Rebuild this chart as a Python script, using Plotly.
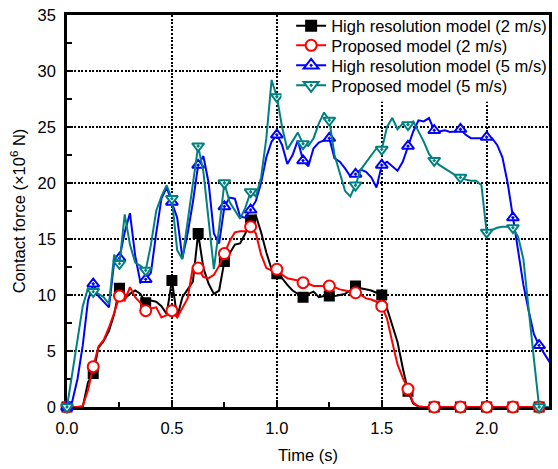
import plotly.graph_objects as go

# Sampling grid of the contact-force histories (s)
TIME = [round(i * 0.025, 3) for i in range(93)]
MARKER_STEP = 5  # a symbol every 0.125 s

# Contact force (x10^6 N)
HIGH_RES_2 = [
    0, 0, 0, 0, 2.2, 3.0, 5.3, 5.9, 6.8, 8.3,
    10.6, 9.7, 10.1, 10.4, 10.1, 9.3, 9.5, 9.4, 9.0, 8.3,
    11.3, 8.0, 9.8, 10.5, 11.2, 15.5, 12.4, 11.0, 10.1, 10.4,
    13.0, 13.7, 14.5, 14.6, 15.5, 16.7, 17.1, 15.6, 13.8, 12.3,
    11.9, 11.5, 10.9, 10.4, 10.1, 9.8, 10.1, 10.3, 9.8, 9.9,
    9.9, 9.9, 10.0, 10.1, 10.4, 10.8, 10.6, 10.5, 10.4, 10.2,
    10.0, 8.8, 7.4, 5.8, 3.5, 1.4, 0.3, 0.05, 0, 0,
    0, 0, 0, 0, 0, 0, 0, 0, 0, 0,
    0, 0, 0, 0, 0, 0, 0, 0, 0, 0,
    0, 0, 0,
]
PROPOSED_2 = [
    0, 0, 0, 0.1, 1.5, 3.6, 5.4, 6.0, 7.1, 8.4,
    9.9, 9.5, 10.7, 9.8, 9.3, 8.6, 8.8, 8.9, 8.0, 8.2,
    8.6, 8.0, 8.8, 9.7, 12.5, 12.4, 11.6, 11.5, 11.8, 12.6,
    13.7, 14.8, 15.6, 15.7, 15.7, 16.1, 15.5, 13.6, 12.4, 12.2,
    12.3, 11.8, 11.5, 11.4, 11.3, 11.1, 11.0, 10.8, 10.8, 10.8,
    10.8, 10.7, 10.5, 10.4, 10.3, 10.2, 10.0, 9.7, 9.6, 9.4,
    9.0, 7.9, 5.8, 3.8, 2.6, 1.6, 0.4, 0.05, 0, 0,
    0, 0, 0, 0, 0, 0, 0, 0, 0, 0,
    0, 0, 0, 0, 0, 0, 0, 0, 0, 0,
    0, 0, 0,
]
HIGH_RES_5 = [
    0, 0.5, 2.5, 5.5, 9.5, 11.0, 9.9, 9.4, 8.9, 13.0,
    13.3, 15.6, 17.3, 13.5, 11.1, 11.4, 12.0, 15.5, 18.6, 19.6,
    18.3, 16.9, 13.3, 15.5, 18.3, 21.6, 22.4, 20.0, 15.5, 14.6,
    17.9, 18.7, 18.6, 17.0, 16.9, 17.6, 18.4, 20.0, 22.3, 23.7,
    24.3, 23.4, 21.7, 22.5, 23.8, 22.0, 21.5, 23.1, 23.6, 23.8,
    24.0, 22.2, 21.9, 21.3, 20.6, 20.8, 21.2, 21.0, 20.5, 19.6,
    21.6, 21.9, 21.5, 21.1, 21.9, 23.3, 24.6, 25.6, 25.5, 25.8,
    24.7, 24.6, 24.7, 24.55, 24.6, 24.8, 24.3, 24.0, 24.0, 24.0,
    24.1, 24.0, 23.4, 22.3, 20.0, 16.9, 13.6, 10.9, 8.6, 6.5,
    5.5, 4.7, 4.0,
]
PROPOSED_5 = [
    0, 2.9, 5.8, 9.0, 10.6, 10.3, 10.1, 9.8, 9.2, 13.6,
    12.8, 17.2, 14.5, 12.9, 12.6, 12.2, 14.5, 17.5, 18.8, 19.8,
    18.6, 14.0, 13.2, 16.5, 20.0, 23.3, 21.0, 16.5, 12.3, 16.0,
    20.0, 18.3, 17.5, 16.8, 17.8, 19.2, 18.8, 20.5, 24.0, 29.2,
    27.7, 25.0, 23.0, 23.8, 24.5, 23.5, 23.3, 24.0, 25.3, 26.3,
    25.6, 22.5, 20.8, 19.3, 18.8, 19.8, 21.2, 21.8, 22.4, 23.1,
    23.0, 25.0, 25.8, 24.8, 25.3, 25.2, 25.5, 24.6, 23.7, 22.6,
    22.0, 21.6, 21.3, 21.0, 20.7, 20.5, 20.3, 20.2, 20.2, 19.8,
    15.6, 15.8, 16.0, 16.1, 16.1, 16.0, 15.2, 13.2, 9.0, 4.3,
    0, 0, 0,
]

# name, values, colour, symbol, fill, plot marker size, legend marker size
SERIES = [
    ("High resolution model (2 m/s)", HIGH_RES_2, "#000000", "square", "#000000", 9, 10),
    ("Proposed model (2 m/s)", PROPOSED_2, "#ff0000", "circle", "#ffffff", 11, 11),
    ("High resolution model (5 m/s)", HIGH_RES_5, "#0000ff", "triangle-up-dot", "#ffffff", 10.5, 13),
    ("Proposed model (5 m/s)", PROPOSED_5, "#008080", "triangle-down-dot", "#ffffff", 10.5, 13),
]

# Vertical centre of each legend row (paper fraction) and the legend block extent
LEGEND_X = 0.465
LEGEND_ROWS_Y = [0.972, 0.922, 0.871, 0.820]
LEGEND_BOX = dict(x0=0.445, x1=1.0, y0=0.779, y1=1.0)

FONT = "Liberation Sans, Arial, sans-serif"

fig = go.Figure()
for i, (name, values, color, symbol, fill, size, legend_size) in enumerate(SERIES):
    legend_id = "legend" if i == 0 else f"legend{i + 1}"
    marker = dict(symbol=symbol, size=size, color=fill,
                  line=dict(color=color, width=2))
    fig.add_trace(go.Scatter(
        x=TIME, y=values, mode="lines", line=dict(color=color, width=2),
        showlegend=False, hoverinfo="skip"))
    fig.add_trace(go.Scatter(
        x=TIME[::MARKER_STEP], y=values[::MARKER_STEP], mode="markers",
        marker=marker, cliponaxis=False, showlegend=False))
    fig.add_trace(go.Scatter(
        x=[None], y=[None], mode="lines+markers", name=name,
        line=dict(color=color, width=2),
        marker=dict(marker, size=legend_size), legend=legend_id))

axis_common = dict(
    showline=True, linecolor="black", linewidth=2.5, mirror=True,
    ticks="inside", ticklen=5, tickwidth=2, tickcolor="black",
    showgrid=True, gridcolor="black", gridwidth=1.5, griddash="2px,1.6px",
    zeroline=False, layer="below traces",
    tickfont=dict(family=FONT, size=16.5, color="black"),
)

fig.update_xaxes(
    range=[0, 2.297], tick0=0, dtick=0.5, tickformat=".1f",
    minor=dict(ticks="inside", ticklen=5, tickwidth=2, tickcolor="black",
               dtick=0.25, showgrid=False),
    ticklabelstandoff=4,
    title=dict(text="Time (s)", standoff=14,
               font=dict(family=FONT, size=16.5, color="black")),
    **axis_common)
fig.update_yaxes(
    range=[0, 35], tick0=0, dtick=5,
    minor=dict(ticks="inside", ticklen=5, tickwidth=2, tickcolor="black",
               dtick=2.5, showgrid=False),
    ticklabelstandoff=5,
    title=dict(text="Contact force (×10<sup>6</sup> N)", standoff=8,
               font=dict(family=FONT, size=16.5, color="black")),
    **axis_common)

# White block behind the legend rows
fig.add_shape(type="rect", xref="paper", yref="paper", layer="above",
              fillcolor="white", line=dict(width=0), **LEGEND_BOX)

legend_style = dict(x=LEGEND_X, xanchor="left", yanchor="middle",
                    bgcolor="rgba(0,0,0,0)", borderwidth=0,
                    font=dict(family=FONT, size=16.5, color="black"))
layout_legends = {}
for i, y in enumerate(LEGEND_ROWS_Y):
    key = "legend" if i == 0 else f"legend{i + 1}"
    layout_legends[key] = dict(y=y, **legend_style)

fig.update_layout(
    width=558, height=469, autosize=False,
    margin=dict(l=67, r=6, t=13, b=62),
    paper_bgcolor="white", plot_bgcolor="white",
    font=dict(family=FONT, size=16.5, color="black"),
    **layout_legends,
)

fig.write_html("out.html")
